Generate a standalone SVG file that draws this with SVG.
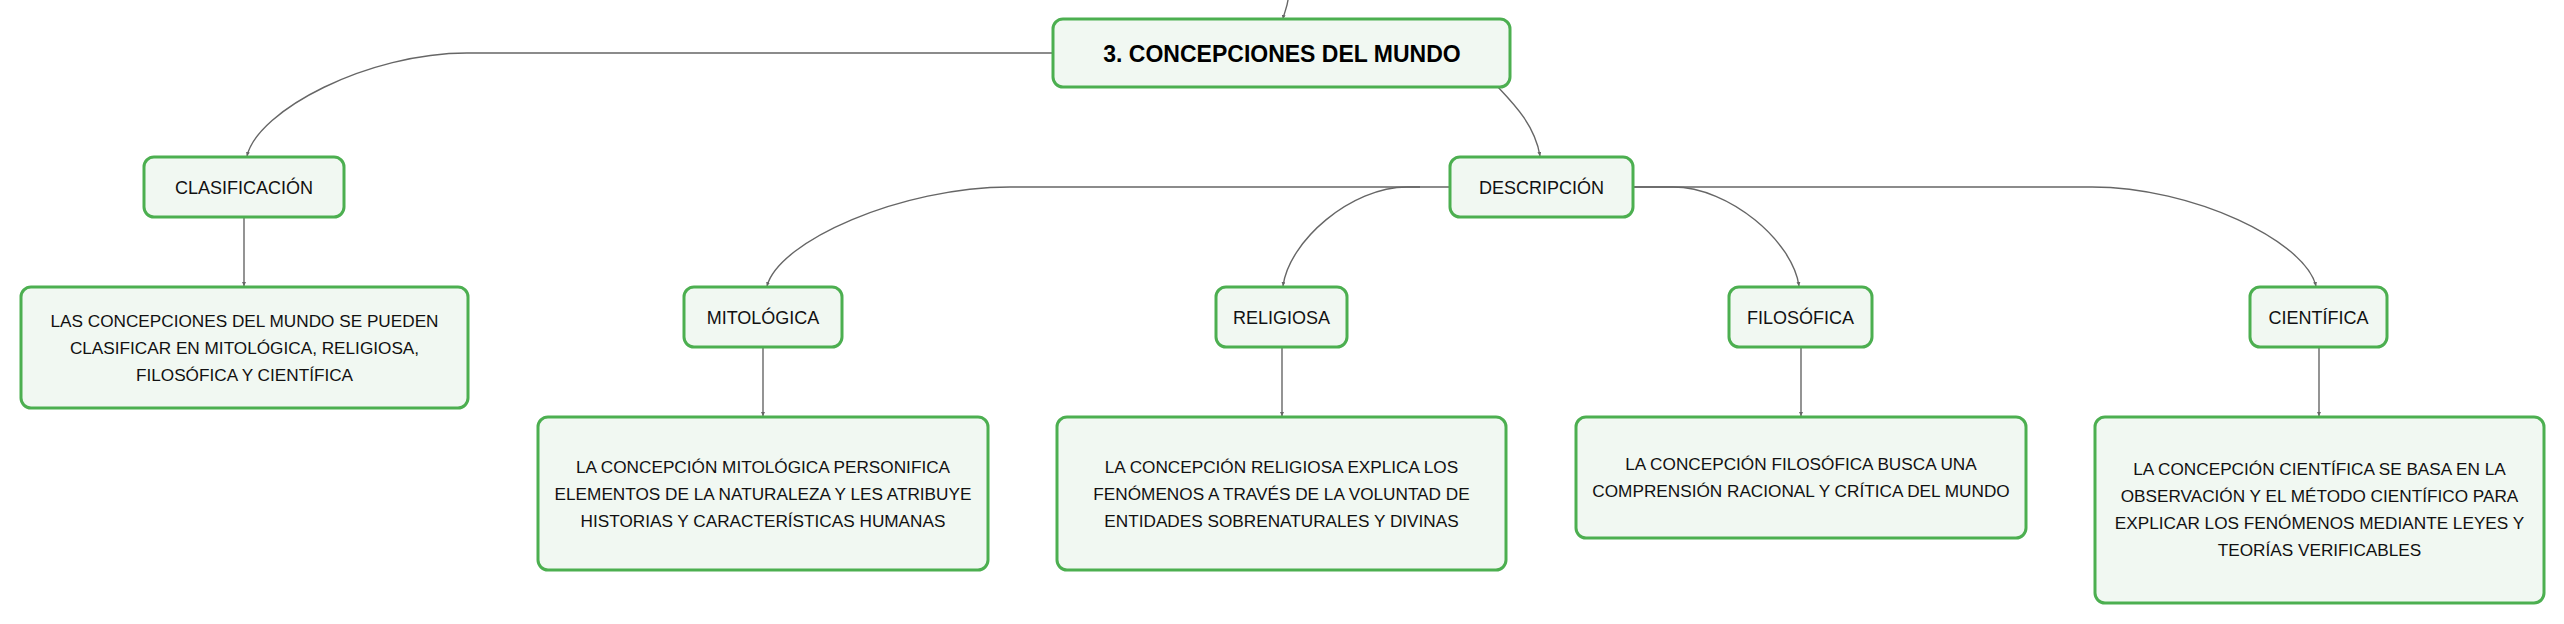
<svg xmlns="http://www.w3.org/2000/svg" width="2564" height="624" viewBox="0 0 2564 624">
<style>
.box{fill:#f1f8f2;stroke:#4caf50;stroke-width:3}
.lbl{font-family:"Liberation Sans",Arial,sans-serif;font-size:18px;fill:#111;text-anchor:middle}
.det{font-family:"Liberation Sans",Arial,sans-serif;font-size:17.2px;fill:#111;text-anchor:middle}
.title{font-family:"Liberation Sans",Arial,sans-serif;font-size:23px;font-weight:bold;fill:#000;text-anchor:middle}
.con{fill:none;stroke:#666;stroke-width:1.4;marker-end:url(#arr)}
</style>
<defs>
<marker id="arr" viewBox="0 0 6 6" refX="6" refY="3" markerWidth="4" markerHeight="4" markerUnits="userSpaceOnUse" orient="auto">
<path d="M0,0 L6,3 L0,6 Z" fill="#666"/>
</marker>
</defs>
<rect width="2564" height="624" fill="#ffffff"/>
<g id="connectors">
<path class="con" d="M1288,0 C1287,8 1284,13 1283,19"/>
<path class="con" d="M1053,53 L467,53 C368,53 258,110 247,156"/>
<path class="con" d="M1497,86 C1513,103 1535,125 1540,156"/>
<path class="con" d="M244,217 L244,286"/>
<path class="con" d="M1450,187 L1010,187 C901,187 779,241 767,286"/>
<path class="con" d="M1420,187 L1407,187 C1351,187 1289,241 1283,286"/>
<path class="con" d="M1633,187 L1673,187 C1730,187 1793,242 1799,286"/>
<path class="con" d="M1633,187 L2092,187 C2193,187 2305,241 2316,286"/>
<path class="con" d="M763,347 L763,416"/>
<path class="con" d="M1282,347 L1282,416"/>
<path class="con" d="M1801,347 L1801,416"/>
<path class="con" d="M2319,347 L2319,416"/>
</g>
<g id="root">
<rect class="box" x="1053" y="19" width="457" height="68" rx="10"/>
<text class="title" x="1282" y="62">3. CONCEPCIONES DEL MUNDO</text>
</g>
<g id="clasificacion">
<rect class="box" x="144" y="157" width="200" height="60" rx="10"/>
<text class="lbl" x="244" y="193.5">CLASIFICACIÓN</text>
</g>
<g id="clasificacion-detalle">
<rect class="box" x="21" y="287" width="447" height="121" rx="10"/>
<text class="det" x="244.5" y="327">LAS CONCEPCIONES DEL MUNDO SE PUEDEN</text>
<text class="det" x="244.5" y="354">CLASIFICAR EN MITOLÓGICA, RELIGIOSA,</text>
<text class="det" x="244.5" y="381">FILOSÓFICA Y CIENTÍFICA</text>
</g>
<g id="descripcion">
<rect class="box" x="1450" y="157" width="183" height="60" rx="10"/>
<text class="lbl" x="1541.5" y="193.5">DESCRIPCIÓN</text>
</g>
<g id="mitologica">
<rect class="box" x="684" y="287" width="158" height="60" rx="10"/>
<text class="lbl" x="763" y="323.5">MITOLÓGICA</text>
</g>
<g id="mitologica-detalle">
<rect class="box" x="538" y="417" width="450" height="153" rx="10"/>
<text class="det" x="763" y="473">LA CONCEPCIÓN MITOLÓGICA PERSONIFICA</text>
<text class="det" x="763" y="500">ELEMENTOS DE LA NATURALEZA Y LES ATRIBUYE</text>
<text class="det" x="763" y="527">HISTORIAS Y CARACTERÍSTICAS HUMANAS</text>
</g>
<g id="religiosa">
<rect class="box" x="1216" y="287" width="131" height="60" rx="10"/>
<text class="lbl" x="1281.5" y="323.5">RELIGIOSA</text>
</g>
<g id="religiosa-detalle">
<rect class="box" x="1057" y="417" width="449" height="153" rx="10"/>
<text class="det" x="1281.5" y="473">LA CONCEPCIÓN RELIGIOSA EXPLICA LOS</text>
<text class="det" x="1281.5" y="500">FENÓMENOS A TRAVÉS DE LA VOLUNTAD DE</text>
<text class="det" x="1281.5" y="527">ENTIDADES SOBRENATURALES Y DIVINAS</text>
</g>
<g id="filosofica">
<rect class="box" x="1729" y="287" width="143" height="60" rx="10"/>
<text class="lbl" x="1800.5" y="323.5">FILOSÓFICA</text>
</g>
<g id="filosofica-detalle">
<rect class="box" x="1576" y="417" width="450" height="121" rx="10"/>
<text class="det" x="1801" y="470">LA CONCEPCIÓN FILOSÓFICA BUSCA UNA</text>
<text class="det" x="1801" y="497">COMPRENSIÓN RACIONAL Y CRÍTICA DEL MUNDO</text>
</g>
<g id="cientifica">
<rect class="box" x="2250" y="287" width="137" height="60" rx="10"/>
<text class="lbl" x="2318.5" y="323.5">CIENTÍFICA</text>
</g>
<g id="cientifica-detalle">
<rect class="box" x="2095" y="417" width="449" height="186" rx="10"/>
<text class="det" x="2319.5" y="475">LA CONCEPCIÓN CIENTÍFICA SE BASA EN LA</text>
<text class="det" x="2319.5" y="502">OBSERVACIÓN Y EL MÉTODO CIENTÍFICO PARA</text>
<text class="det" x="2319.5" y="529">EXPLICAR LOS FENÓMENOS MEDIANTE LEYES Y</text>
<text class="det" x="2319.5" y="556">TEORÍAS VERIFICABLES</text>
</g>
</svg>
